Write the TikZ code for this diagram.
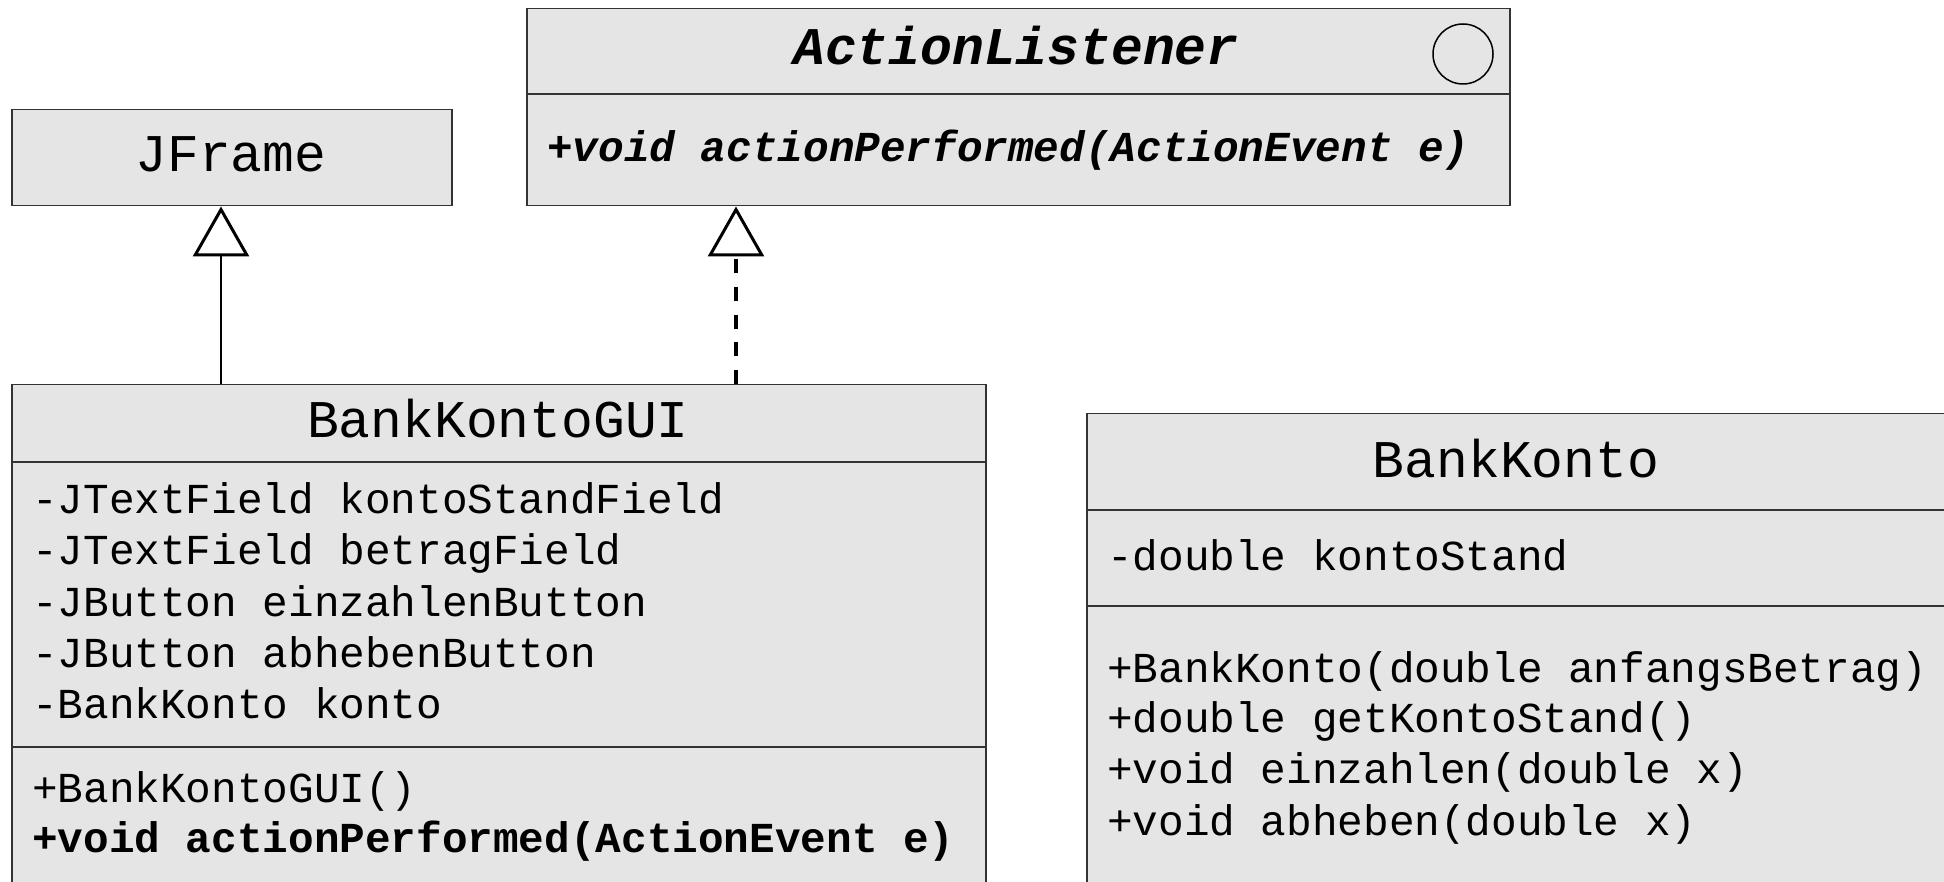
\documentclass[tikz,border=0pt]{standalone}
\usepackage{fontspec}
\setmainfont{Liberation Mono}
\usetikzlibrary{arrows.meta,calc}
\tikzset{
  box/.style={draw=black!80, line width=1.5pt, fill=black!10, inner sep=0pt, anchor=north west},
  divider/.style={draw=black!80, line width=1.5pt},
  title/.style={font=\fontsize{53}{60}\selectfont, anchor=base, inner sep=0pt},
  member/.style={font=\fontsize{42.7}{51}\selectfont, anchor=base west, inner sep=0pt},
  genline/.style={draw=black, line width=2.5pt, -{Triangle[open, length=50pt, width=56pt, fill=white, line width=3pt]}},
  realline/.style={genline, line width=4pt, dash pattern=on 14pt off 13.7pt},
}
\begin{document}
\begin{tikzpicture}[x=1pt, y=-1pt]
\useasboundingbox (0,0) rectangle (1944,882);
\clip (0,0) rectangle (1944,882);
\fill[white] (0,0) rectangle (1944,882);

% JFrame
\node[box, minimum width=440pt, minimum height=96pt] (jframe) at (11,109) {};
\node[title] (jframeT) at (231,172) {JFrame};

% ActionListener
\node[box, minimum width=983pt, minimum height=197pt] (al) at (526,8) {};
\draw[divider] ($(al.north west)+(0,86)$) -- ($(al.north east)+(0,86)$);
\node[title, font=\fontsize{53}{60}\selectfont\bfseries\itshape] (alT) at (1016,65) {ActionListener};
\node[draw=black, line width=1.5pt, circle, inner sep=0pt, minimum size=60pt] (alicon) at (1463,54) {};
\node[member, font=\fontsize{42.7}{51}\selectfont\bfseries\itshape] (alM) at (547,162) {+void actionPerformed(ActionEvent e)};

% BankKontoGUI
\node[box, minimum width=974pt, minimum height=540pt] (gui) at (11,384) {};
\draw[divider] ($(gui.north west)+(0,78)$) -- ($(gui.north east)+(0,78)$);
\draw[divider] ($(gui.north west)+(0,363)$) -- ($(gui.north east)+(0,363)$);
\node[title] (guiT) at (498,438) {BankKontoGUI};
\node[member] (guiA1) at (32,513) {-JTextField kontoStandField};
\node[member] (guiA2) at (32,564) {-JTextField betragField};
\node[member] (guiA3) at (32,616) {-JButton einzahlenButton};
\node[member] (guiA4) at (32,667) {-JButton abhebenButton};
\node[member] (guiA5) at (32,718) {-BankKonto konto};
\node[member] (guiM1) at (32,802) {+BankKontoGUI()};
\node[member, font=\fontsize{42.7}{51}\selectfont\bfseries] (guiM2) at (32,852) {+void actionPerformed(ActionEvent e)};

% BankKonto
\node[box, minimum width=864pt, minimum height=510pt] (bk) at (1086,413) {};
\draw[divider] ($(bk.north west)+(0,97)$) -- ($(bk.north east)+(0,97)$);
\draw[divider] ($(bk.north west)+(0,193)$) -- ($(bk.north east)+(0,193)$);
\node[title] (bkT) at (1516,477) {BankKonto};
\node[member] (bkA1) at (1107,570) {-double kontoStand};
\node[member] (bkM1) at (1107,682) {+BankKonto(double anfangsBetrag)};
\node[member] (bkM2) at (1107,732) {+double getKontoStand()};
\node[member] (bkM3) at (1107,783) {+void einzahlen(double x)};
\node[member] (bkM4) at (1107,835) {+void abheben(double x)};

% connectors
\draw[genline] ($(gui.north west)+(210,0)$) -- ($(jframe.south west)+(210,0)$);
\draw[realline] ($(gui.north west)+(725,0)$) -- ($(al.south west)+(210,0)$);
\end{tikzpicture}
\end{document}
